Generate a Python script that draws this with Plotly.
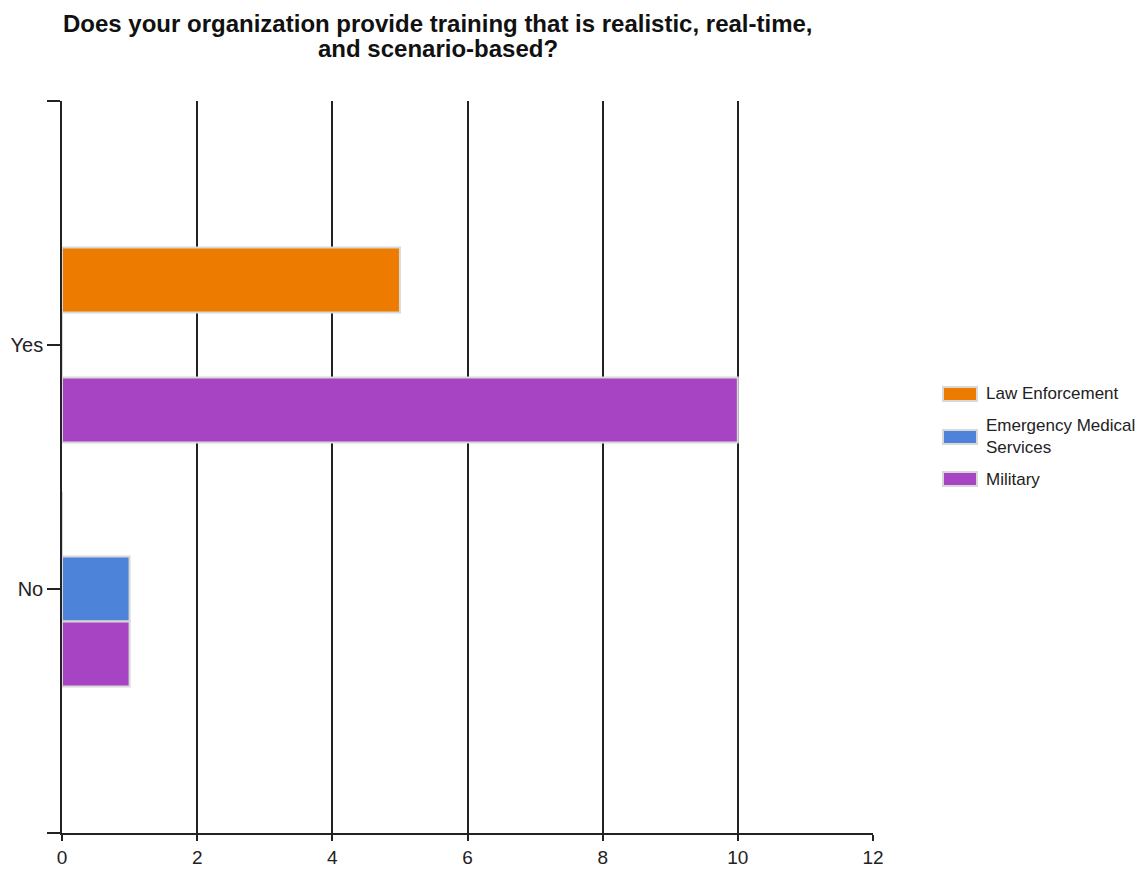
import plotly.graph_objects as go

categories = ["Yes", "No"]
category_pos = [1, 2]
series_names = ["Law Enforcement", "Emergency Medical<br>Services", "Military"]
law_enforcement = [5, 0]
ems = [0, 1]
military = [10, 1]
x_ticks = [0, 2, 4, 6, 8, 10, 12]
title_lines = ["Does your organization provide training that is realistic, real-time,",
               "and scenario-based?"]

colors = ["#ec7b00", "#4d83d8", "#a744c3"]
values = [law_enforcement, ems, military]

# plot area in reference pixels
PL, PR, PT, PB = 61, 872, 100, 832
OFF = 7  # page offset


def px_x(x):
    return (x - PL) / (PR - PL)


def px_y(y):
    return (PB - y) / (PB - PT)


fig = go.Figure()
for name, vals, col in zip(series_names, values, colors):
    fig.add_trace(go.Bar(
        x=vals, y=category_pos, orientation="h", name=name,
        marker=dict(color=col, line=dict(color="#d8d8d8", width=2)),
        showlegend=False,
    ))

# custom legend (swatch + text)
legend_y = [393, 436, 478]
for name, col, ly in zip(series_names, colors, legend_y):
    fig.add_shape(type="rect", xref="paper", yref="paper",
                  x0=px_x(942), x1=px_x(976), y0=px_y(ly + 7), y1=px_y(ly - 7),
                  fillcolor=col, line=dict(color="#d8d8d8", width=2))
    fig.add_annotation(text=name, xref="paper", yref="paper",
                       x=px_x(983), y=px_y(ly), xanchor="left", yanchor="middle",
                       align="left", showarrow=False,
                       font=dict(family="Liberation Sans, Arial, sans-serif", size=17, color="#222"))

title_font = dict(family="Liberation Sans, Arial, sans-serif", size=24, color="#111")
fig.add_annotation(
    text="<b>" + title_lines[0] + "</b>",
    xref="paper", yref="paper", x=px_x(437), y=px_y(OFF), xanchor="center", yanchor="top",
    showarrow=False, font=title_font,
)
fig.add_annotation(
    text="<b>" + title_lines[1] + "</b>",
    xref="paper", yref="paper", x=px_x(437), y=px_y(47), xanchor="center", yanchor="middle",
    showarrow=False, font=title_font,
)

fig.update_layout(
    width=1145, height=872,
    paper_bgcolor="white", plot_bgcolor="white",
    margin=dict(l=PL - OFF, r=1145 - PR + OFF, t=PT - OFF, b=872 - PB + OFF),
    barmode="group", bargap=0.2, bargroupgap=0,
    font=dict(family="Liberation Sans, Arial, sans-serif", size=19, color="#222"),
    showlegend=False,
    xaxis=dict(
        range=[0, 12], tickvals=x_ticks, ticktext=[str(v) for v in x_ticks],
        tickfont=dict(size=19, color="#222"),
        showgrid=True, gridcolor="#222", gridwidth=1.5,
        showline=True, linecolor="#222", linewidth=1.5,
        ticks="outside", ticklen=6, tickcolor="#222", tickwidth=1.5,
        zeroline=False, fixedrange=True, automargin=False,
    ),
    yaxis=dict(
        range=[3, 0], tickvals=[0, 1, 2, 3], ticktext=["", categories[0], categories[1], ""],
        tickfont=dict(size=20, color="#222"),
        showgrid=False, showline=True, linecolor="#222", linewidth=1.5,
        ticks="outside", ticklen=13, tickcolor="#222", tickwidth=1.5,
        zeroline=False, fixedrange=True, automargin=False,
    ),
)

fig.write_html("out.html")
